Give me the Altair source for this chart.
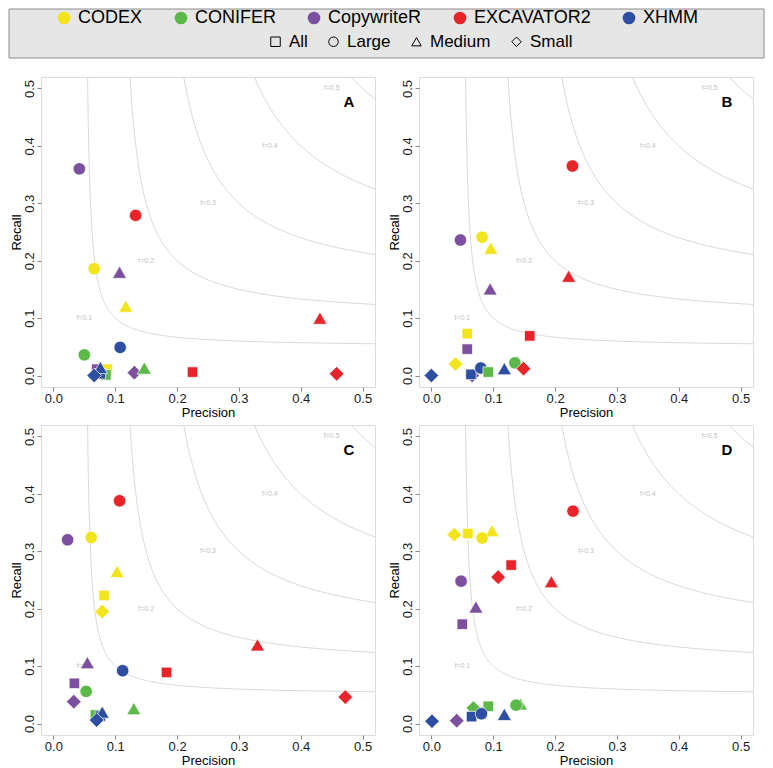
import altair as alt
import numpy as np
import pandas as pd

# ---------------- data ----------------
methods = ["CODEX", "CONIFER", "CopywriteR", "EXCAVATOR2", "XHMM"]
method_colors = ["#f3e51d", "#5db84a", "#7d509f", "#e8242b", "#2d4ea1"]
groups = ["All", "Large", "Medium", "Small"]
group_shapes = ["square", "circle", "triangle-up", "diamond"]
group_areas = [110, 155, 200, 215]

f_levels = [0.1, 0.2, 0.3, 0.4, 0.5]
tick_values = [0.0, 0.1, 0.2, 0.3, 0.4, 0.5]

A_method = ["CopywriteR", "EXCAVATOR2", "CODEX", "CopywriteR", "CODEX", "EXCAVATOR2", "CONIFER", "XHMM",
            "CopywriteR", "CODEX", "CONIFER", "XHMM", "XHMM", "XHMM", "CopywriteR", "CONIFER", "EXCAVATOR2", "EXCAVATOR2"]
A_group = ["Large", "Large", "Large", "Medium", "Medium", "Medium", "Large", "Large",
           "All", "All", "All", "All", "Medium", "Small", "Small", "Medium", "All", "Small"]
A_precision = [0.042, 0.133, 0.066, 0.107, 0.117, 0.431, 0.050, 0.108,
               0.070, 0.087, 0.085, 0.076, 0.076, 0.066, 0.131, 0.147, 0.225, 0.458]
A_recall = [0.360, 0.279, 0.186, 0.180, 0.121, 0.100, 0.036, 0.049,
            0.011, 0.011, 0.001, 0.003, 0.014, 0.000, 0.005, 0.013, 0.006, 0.003]

B_method = ["EXCAVATOR2", "CopywriteR", "CODEX", "CODEX", "CopywriteR", "EXCAVATOR2", "CODEX", "CopywriteR",
            "EXCAVATOR2", "CODEX", "XHMM", "CopywriteR", "XHMM", "XHMM", "CONIFER", "XHMM", "CONIFER", "CONIFER",
            "EXCAVATOR2"]
B_group = ["Large", "Large", "Large", "Medium", "Medium", "Medium", "All", "All",
           "All", "Small", "Small", "Small", "All", "Large", "All", "Medium", "Medium", "Large",
           "Small"]
B_precision = [0.228, 0.047, 0.082, 0.096, 0.095, 0.222, 0.058, 0.058,
               0.159, 0.039, 0.000, 0.066, 0.064, 0.080, 0.092, 0.118, 0.139, 0.135,
               0.149]
B_recall = [0.365, 0.236, 0.241, 0.222, 0.151, 0.173, 0.073, 0.046,
            0.069, 0.020, 0.000, 0.000, 0.002, 0.013, 0.006, 0.012, 0.024, 0.022,
            0.012]

C_method = ["EXCAVATOR2", "CopywriteR", "CODEX", "CODEX", "CODEX", "CODEX", "EXCAVATOR2", "CopywriteR",
            "XHMM", "EXCAVATOR2", "CopywriteR", "CONIFER", "CopywriteR", "EXCAVATOR2", "CONIFER", "CONIFER",
            "XHMM", "XHMM", "XHMM"]
C_group = ["Large", "Large", "Large", "Medium", "All", "Small", "Medium", "Medium",
           "Large", "All", "All", "Large", "Small", "Small", "Medium", "All",
           "All", "Medium", "Small"]
C_precision = [0.107, 0.023, 0.061, 0.103, 0.082, 0.079, 0.330, 0.055,
               0.112, 0.183, 0.034, 0.053, 0.033, 0.472, 0.130, 0.068,
               0.076, 0.079, 0.070]
C_recall = [0.388, 0.320, 0.324, 0.265, 0.223, 0.195, 0.137, 0.106,
            0.092, 0.089, 0.070, 0.056, 0.038, 0.046, 0.026, 0.015,
            0.013, 0.020, 0.006]

D_method = ["EXCAVATOR2", "CODEX", "CODEX", "CODEX", "CODEX", "EXCAVATOR2", "EXCAVATOR2", "EXCAVATOR2",
            "CopywriteR", "CopywriteR", "CopywriteR", "CONIFER", "CONIFER", "CONIFER", "CONIFER",
            "XHMM", "XHMM", "XHMM", "XHMM", "CopywriteR"]
D_group = ["Large", "Medium", "All", "Small", "Large", "All", "Small", "Medium",
           "Large", "Medium", "All", "Small", "All", "Medium", "Large",
           "All", "Large", "Medium", "Small", "Small"]
D_precision = [0.229, 0.098, 0.059, 0.037, 0.082, 0.129, 0.108, 0.194,
               0.048, 0.072, 0.050, 0.068, 0.092, 0.144, 0.137,
               0.065, 0.081, 0.118, 0.001, 0.041]
D_recall = [0.370, 0.336, 0.331, 0.329, 0.323, 0.276, 0.255, 0.247,
            0.248, 0.203, 0.173, 0.027, 0.030, 0.034, 0.032,
            0.012, 0.017, 0.016, 0.004, 0.005]

panel_data = {
    "A": (A_method, A_group, A_precision, A_recall),
    "B": (B_method, B_group, B_precision, B_recall),
    "C": (C_method, C_group, C_precision, C_recall),
    "D": (D_method, D_group, D_precision, D_recall),
}

# ------------- iso-F curves (F = 2PR/(P+R)) -------------
rows = []
for f in f_levels:
    P = f / 2 + np.geomspace(5e-4, 0.6, 300)
    R = f * P / (2 * P - f)
    for i, (p, r) in enumerate(zip(P, R)):
        if r <= 0.9:
            rows.append({"f": f, "P": p, "R": r, "i": i})
curve_df = pd.DataFrame(rows)
label_df = pd.DataFrame({"P": [f - 0.05 for f in f_levels], "R": f_levels,
                         "t": [f"f={f:.1f}" for f in f_levels]})

DOM = [-0.02, 0.52]
W, H = 334, 310
FONT = "Liberation Sans"
area_of = dict(zip(groups, group_areas))


def xenc(field):
    return alt.X(field, type="quantitative", scale=alt.Scale(domain=DOM, nice=False, zero=False),
                 axis=alt.Axis(values=tick_values, format=".1f", title="Precision", grid=False, domain=False,
                               tickSize=4, tickColor="#888888", labelPadding=1, labelFontSize=13,
                               labelColor="#1a1a1a", titleFontSize=13, titleFontWeight="normal",
                               titlePadding=1, titleColor="#000000", labelFont=FONT, titleFont=FONT))


def yenc(field):
    return alt.Y(field, type="quantitative", scale=alt.Scale(domain=DOM, nice=False, zero=False),
                 axis=alt.Axis(values=tick_values, format=".1f", title="Recall", grid=False, domain=False,
                               tickSize=4, tickColor="#888888", labelPadding=1, labelFontSize=13,
                               labelAngle=270, labelAlign="center", labelBaseline="bottom",
                               labelColor="#1a1a1a", titleFontSize=13, titleFontWeight="normal",
                               titlePadding=0, titleColor="#000000", labelFont=FONT, titleFont=FONT))


def panel(letter):
    m, g, p, r = panel_data[letter]
    df = pd.DataFrame({"method": m, "group": g, "Precision": p, "Recall": r})
    df["marker_area"] = df["group"].map(area_of)
    curves = alt.Chart(curve_df).mark_line(clip=True, color="#cfcfcf", strokeWidth=0.8).encode(
        x=xenc("P"), y=yenc("R"), detail="f:N", order="i:Q")
    flabels = alt.Chart(label_df).mark_text(fontSize=7, color="#bfbfbf", font=FONT).encode(
        x=xenc("P"), y=yenc("R"), text="t:N")
    pts = alt.Chart(df).mark_point(filled=True, opacity=1, stroke="white", strokeWidth=0.7).encode(
        x=xenc("Precision"), y=yenc("Recall"),
        color=alt.Color("method:N", scale=alt.Scale(domain=methods, range=method_colors),
                        legend=alt.Legend(orient="none", legendX=14, legendY=0, direction="horizontal",
                                          title=None, symbolType="circle", symbolSize=160,
                                          symbolStrokeColor="transparent", symbolStrokeWidth=0,
                                          labelFontSize=18, labelFont=FONT, labelColor="#000000",
                                          labelOffset=5, columnPadding=29, padding=0,
                                          symbolOpacity=1)),
        shape=alt.Shape("group:N", scale=alt.Scale(domain=groups, range=group_shapes),
                        legend=alt.Legend(orient="none", legendX=226, legendY=24, direction="horizontal",
                                          title=None, symbolSize=90, symbolFillColor="transparent",
                                          symbolStrokeColor="#000000", symbolStrokeWidth=1,
                                          labelFontSize=17, labelFont=FONT, labelColor="#000000",
                                          labelOffset=5, columnPadding=17, padding=0,
                                          symbolOpacity=1)),
        size=alt.Size("marker_area:Q", scale=None),
    )
    letter_df = pd.DataFrame({"P": [0.478], "R": [0.476], "t": [letter]})
    tag = alt.Chart(letter_df).mark_text(fontSize=15, fontWeight="bold", font=FONT, color="#000000").encode(
        x=xenc("P"), y=yenc("R"), text="t:N")
    return alt.layer(curves, flabels, pts, tag).properties(width=W, height=H)


box = alt.Chart(pd.DataFrame({"t": [""]})).mark_rect(fill="#e6e6e6", stroke="#8c8c8c", strokeWidth=1).encode(
    x=alt.value(-32), x2=alt.value(723), y=alt.value(0), y2=alt.value(49)
).properties(width=700, height=49, view=alt.ViewBackground(stroke="transparent"))

row1 = alt.hconcat(panel("A"), panel("B"), spacing=11)
row2 = alt.hconcat(panel("C"), panel("D"), spacing=11)

chart = alt.vconcat(box, alt.vconcat(row1, row2, spacing=4), spacing=17).properties(
    padding=0
).configure_view(stroke="#8c8c8c", strokeWidth=1).configure(font=FONT)

chart.save("out.html", embed_options={"renderer": "svg", "actions": False})
